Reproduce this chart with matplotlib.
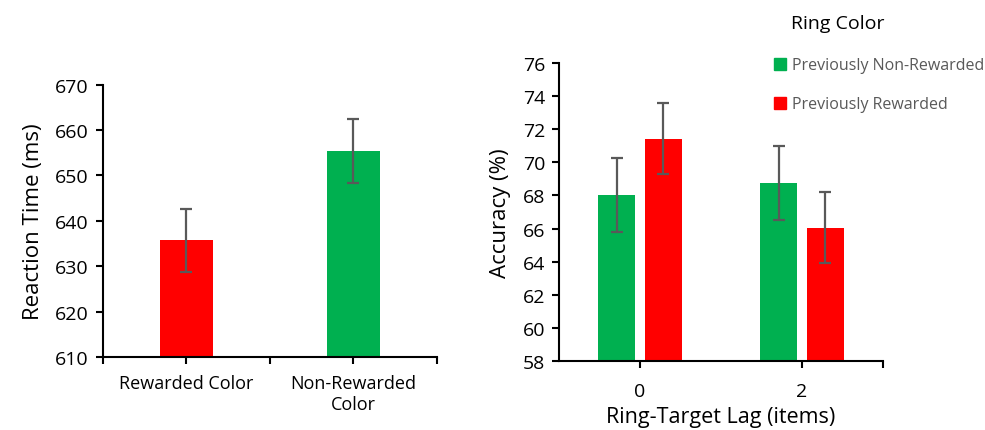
import matplotlib
matplotlib.use("Agg")
import matplotlib.pyplot as plt
from matplotlib.lines import Line2D
import numpy as np

# left panel data
rt_labels = ["Rewarded Color", "Non-Rewarded\nColor"]
rt_means = [635.7, 655.4]
rt_err = [7.0, 7.0]

# right panel data
lags = ["0", "2"]
acc_nonrew = [68.05, 68.75]
acc_nonrew_err = [2.24, 2.25]
acc_rew = [71.42, 66.05]
acc_rew_err = [2.15, 2.14]

GREEN = "#00b050"
RED = "#ff0000"
ERR = "#595959"

plt.rcParams['font.family'] = ['Open Sans', 'DejaVu Sans']

fig = plt.figure(figsize=(9.85, 4.31), dpi=100)

# ---- left: reaction time
ax1 = fig.add_axes([0.1043, 0.1694, 0.3394, 0.6318])
x = np.arange(len(rt_labels))
ax1.bar(x, rt_means, width=0.32, color=[RED, GREEN], zorder=2)
ax1.errorbar(x, rt_means, yerr=rt_err, fmt='none', ecolor=ERR,
             elinewidth=1.6, capsize=4, capthick=1.6, zorder=3)
ax1.set_ylim(610, 670)
ax1.set_xlim(-0.5, 1.5)
ax1.set_yticks(np.arange(610, 671, 10))
ax1.set_xticks(x)
ax1.set_xticklabels(rt_labels, fontsize=13, linespacing=1.25)
ax1.set_xticks([-0.5, 0.5, 1.5], minor=True)
ax1.tick_params(axis='x', which='both', direction='out', length=5, width=1.5, pad=7)
ax1.tick_params(axis='y', direction='out', length=5, width=1.5, labelsize=14, pad=5)
ax1.set_ylabel("Reaction Time (ms)", fontsize=16, labelpad=8)
for s in ['top', 'right']:
    ax1.spines[s].set_visible(False)
for s in ['left', 'bottom']:
    ax1.spines[s].set_linewidth(1.5)

# ---- right: accuracy
ax2 = fig.add_axes([0.5675, 0.1608, 0.329, 0.69])
xx = np.arange(len(lags))
w = 0.228
off = 0.143
ax2.bar(xx - off, acc_nonrew, width=w, color=GREEN, zorder=2,
        label="Previously Non-Rewarded")
ax2.bar(xx + off, acc_rew, width=w, color=RED, zorder=2,
        label="Previously Rewarded")
ax2.errorbar(xx - off, acc_nonrew, yerr=acc_nonrew_err, fmt='none', ecolor=ERR,
             elinewidth=1.6, capsize=4, capthick=1.6, zorder=3)
ax2.errorbar(xx + off, acc_rew, yerr=acc_rew_err, fmt='none', ecolor=ERR,
             elinewidth=1.6, capsize=4, capthick=1.6, zorder=3)
ax2.set_ylim(58, 76)
ax2.set_xlim(-0.5, 1.5)
ax2.set_yticks(np.arange(58, 77, 2))
ax2.set_xticks(xx)
ax2.set_xticklabels(lags, fontsize=14)
ax2.set_xticks([1.5], minor=True)
ax2.tick_params(axis='x', which='both', direction='out', length=5, width=1.5, pad=10)
ax2.tick_params(axis='y', direction='out', length=5, width=1.5, labelsize=14, pad=5)
ax2.set_ylabel("Accuracy (%)", fontsize=16, labelpad=8)
ax2.set_xlabel("Ring-Target Lag (items)", fontsize=15.5, labelpad=5)
for s in ['top', 'right']:
    ax2.spines[s].set_visible(False)
for s in ['left', 'bottom']:
    ax2.spines[s].set_linewidth(1.5)

handles = [Line2D([], [], marker='s', linestyle='none', markersize=9,
                  color=GREEN),
           Line2D([], [], marker='s', linestyle='none', markersize=9,
                  color=RED)]
leg = fig.legend(handles, ["Previously Non-Rewarded", "Previously Rewarded"],
                 loc='upper left', bbox_to_anchor=(0.781, 0.88), frameon=False,
                 fontsize=11.5, labelspacing=1.45, handlelength=0.6,
                 handletextpad=0.4, borderaxespad=0)
for t in leg.get_texts():
    t.set_color(ERR)
fig.text(0.851, 0.945, "Ring Color", fontsize=14, ha='center', va='center')

fig.savefig("out.png", dpi=100)
